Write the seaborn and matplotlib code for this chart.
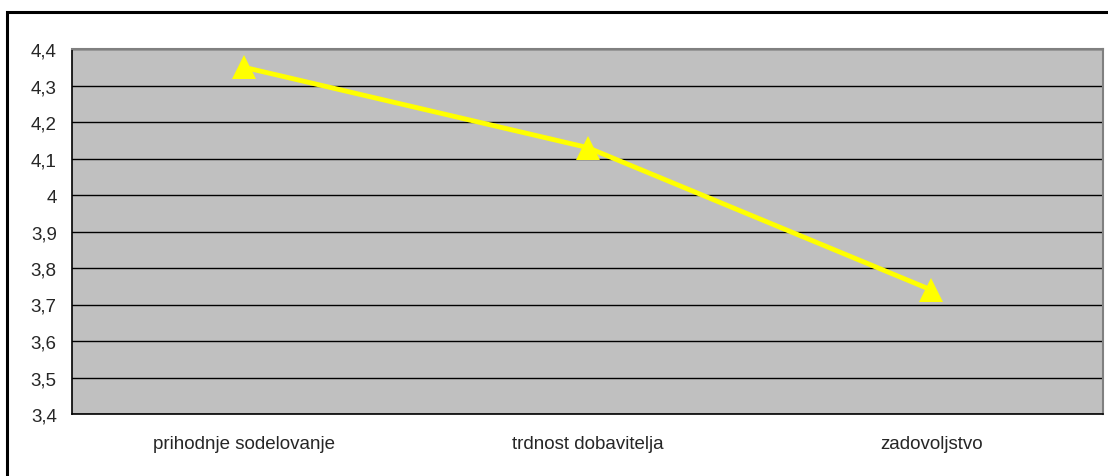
import matplotlib
matplotlib.use("Agg")
import matplotlib.pyplot as plt
import matplotlib.ticker as mticker
from matplotlib.patches import Rectangle
import seaborn as sns
import pandas as pd

categories = ["prihodnje sodelovanje", "trdnost dobavitelja", "zadovoljstvo"]
values = [4.35, 4.13, 3.74]
y_ticks = [3.4, 3.5, 3.6, 3.7, 3.8, 3.9, 4.0, 4.1, 4.2, 4.3, 4.4]

sns.set_style("white")
plt.rcParams["font.family"] = ["Liberation Sans", "DejaVu Sans"]

df = pd.DataFrame({"kategorija": categories, "vrednost": values})

fig = plt.figure(figsize=(11.08, 4.77), dpi=100)
ax = fig.add_axes([72 / 1108, 1 - 415 / 477, (1103 - 72) / 1108, (415 - 50) / 477])

# outer chart frame
fig.patches.append(Rectangle((7 / 1108, -0.1), 1.2, 1 - 13 / 477 + 0.1,
                             transform=fig.transFigure, fill=False,
                             edgecolor="black", linewidth=2.2, zorder=0))

ax.set_facecolor("#C0C0C0")

sns.lineplot(data=df, x="kategorija", y="vrednost", ax=ax, color="#FFFF00",
             linewidth=3.5, marker="^", markersize=17.5, markeredgewidth=0,
             sort=False, zorder=5)

ax.set_xlim(-0.5, len(categories) - 0.5)
ax.set_ylim(y_ticks[0], y_ticks[-1])
ax.set_yticks(y_ticks)
ax.yaxis.set_major_formatter(mticker.FuncFormatter(lambda v, p: f"{v:g}".replace(".", ",")))
ax.grid(axis="y", color="black", linewidth=1.0)
ax.set_axisbelow(True)

ax.set_xticks(range(len(categories)))
ax.set_xticklabels(categories)
ax.set_xticks([i - 0.5 for i in range(len(categories) + 1)], minor=True)
ax.tick_params(axis="x", which="major", length=0, pad=15, labelsize=13.5)
ax.tick_params(axis="x", which="minor", length=5, width=1, direction="out", color="black")
ax.tick_params(axis="y", length=5, width=1, direction="out", color="black", labelsize=13.5, pad=6)
ax.set_xlabel("")
ax.set_ylabel("")

for side in ["left", "bottom"]:
    ax.spines[side].set_color("black")
    ax.spines[side].set_linewidth(1.2)
for side in ["top", "right"]:
    ax.spines[side].set_color("#808080")
    ax.spines[side].set_linewidth(1.5)

fig.savefig("out.png", dpi=100)
